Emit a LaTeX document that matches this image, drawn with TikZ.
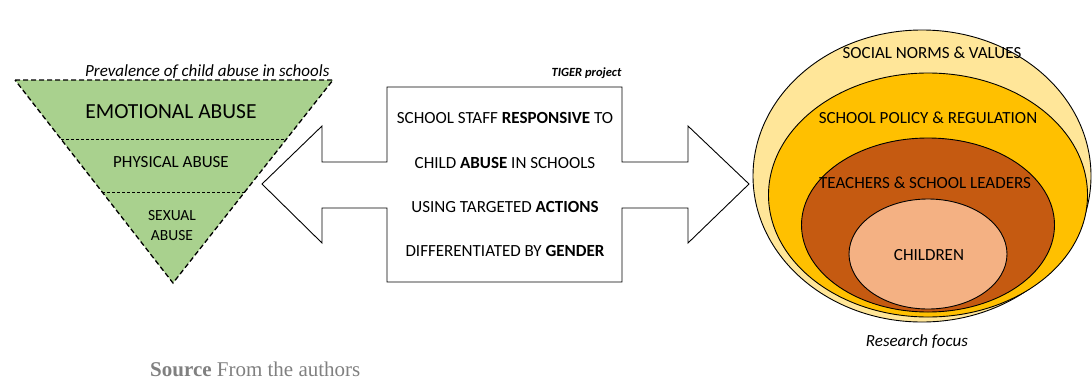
\documentclass[tikz,border=0pt]{standalone}
\usepackage{fontspec}
\setmainfont{Carlito}
\newfontfamily\srcfont{Liberation Serif}
\usetikzlibrary{shapes.geometric}

\definecolor{abusegreen}{HTML}{A9D18E}
\definecolor{normsyellow}{HTML}{FFE699}
\definecolor{policyorange}{HTML}{FFC000}
\definecolor{teacherbrown}{HTML}{C55A11}
\definecolor{childpeach}{HTML}{F4B183}
\definecolor{srcgray}{HTML}{808080}

\tikzset{
  caps/.style={font=\fontsize{17}{19}\selectfont},
  ring/.style={ellipse, draw, line width=0.9pt},
  divider/.style={dash pattern=on 3pt off 2pt, line width=0.6pt},
}

\begin{document}
\begin{tikzpicture}[x=1pt, y=-1pt]
        \useasboundingbox (0,0) rectangle (1092,381);

        % Prevalence triangle
        \draw[fill=abusegreen, line width=1.3pt, dash pattern=on 5pt off 3pt] (15,80) -- (333,80) -- (173,283) -- cycle;
        \draw[divider] (61,139) -- (287,139);
        \draw[divider] (102,192) -- (246,192);
        \node[anchor=base east, font=\fontsize{17}{19}\selectfont\itshape] (prevalence) at (333,76) {Prevalence of child abuse in schools};
        \node[font=\fontsize{21.5}{24}\selectfont] (emotional) at (171,112) {EMOTIONAL ABUSE};
        \node[caps] (physical) at (171,162) {PHYSICAL ABUSE};
        \node[align=center, font=\fontsize{15.5}{20}\selectfont] (sexual) at (172,226) {SEXUAL\\ABUSE};

        % TIGER project double arrow
        \draw[fill=white, line width=0.9pt] (387,87) -- (622,87) -- (622,162) -- (688,162) -- (688,126) -- (749,184)
            -- (688,243) -- (688,208) -- (622,208) -- (622,282) -- (387,282) -- (387,208) -- (322,208)
            -- (322,243) -- (262,184) -- (322,126) -- (322,162) -- (387,162) -- cycle;
        \node[anchor=base east, font=\fontsize{12.5}{14}\selectfont\bfseries\itshape] (tiger) at (625,76) {TIGER project};
        \node[caps] (line1) at (505,118) {SCHOOL STAFF \textbf{RESPONSIVE} TO};
        \node[caps] (line2) at (505,163) {CHILD \textbf{ABUSE} IN SCHOOLS};
        \node[caps] (line3) at (505,207) {USING TARGETED \textbf{ACTIONS}};
        \node[caps] (line4) at (505,251) {DIFFERENTIATED BY \textbf{GENDER}};

        % Research focus rings
        \node[ring, fill=normsyellow, minimum width=338pt, minimum height=292pt] (norms) at (922,176) {};
        \node[ring, fill=policyorange, minimum width=319pt, minimum height=244pt] (policy) at (928,195) {};
        \node[ring, fill=teacherbrown, minimum width=253pt, minimum height=174pt] (teachers) at (928,225) {};
        \node[ring, fill=childpeach, minimum width=158pt, minimum height=110pt] (children) at (928,254) {};
        \node[caps] (normstext) at (932,53) {SOCIAL NORMS \& VALUES};
        \node[caps] (policytext) at (928,118) {SCHOOL POLICY \& REGULATION};
        \node[caps] (teacherstext) at (925,183) {TEACHERS \& SCHOOL LEADERS};
        \node[caps] (childrentext) at (929,255) {CHILDREN};
        \node[font=\fontsize{17}{19}\selectfont\itshape] (focus) at (917,342) {Research focus};

        % Source
        \node[anchor=base west, inner sep=1pt, text=srcgray, font=\fontsize{21}{23}\selectfont\srcfont] (source) at (149,376) {\textbf{Source} From the authors};
\end{tikzpicture}
\end{document}
